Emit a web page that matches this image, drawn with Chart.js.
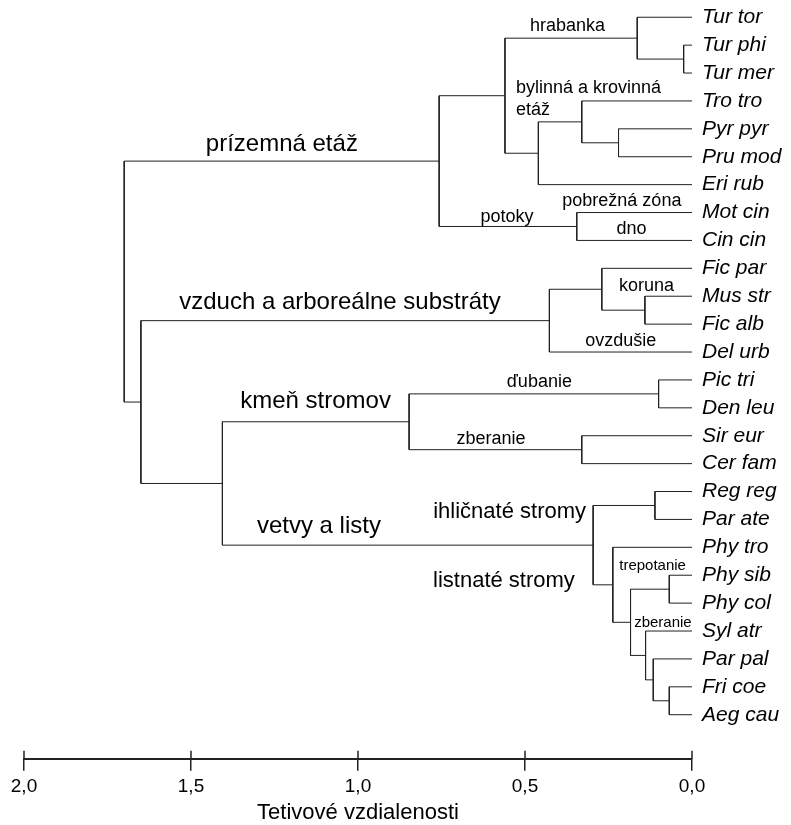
<!DOCTYPE html>
<html>
<head>
<meta charset="utf-8">
<script src="https://cdn.jsdelivr.net/npm/chart.js@4.4.1/dist/chart.umd.min.js"></script>
<style>
  html, body { margin: 0; padding: 0; background: #fff; }
  #wrap { width: 791px; height: 825px; position: relative; }
</style>
</head>
<body>
<div id="wrap"><canvas id="dendro"></canvas></div>
<script>
// leaves, top to bottom
const leaves = ['Tur tor', 'Tur phi', 'Tur mer', 'Tro tro', 'Pyr pyr', 'Pru mod', 'Eri rub',
  'Mot cin', 'Cin cin', 'Fic par', 'Mus str', 'Fic alb', 'Del urb', 'Pic tri', 'Den leu',
  'Sir eur', 'Cer fam', 'Reg reg', 'Par ate', 'Phy tro', 'Phy sib', 'Phy col', 'Syl atr',
  'Par pal', 'Fri coe', 'Aeg cau'];

// merges, hclust style: negative = leaf number (1-based), positive = earlier merge number
const mergeA = [-2, -21, -25, -14, -18, -24, -23, -11, -1, 2, -5, -20, -10, 5, -4, -16, -8, 13, 15, 9, 20, 4, 22, 18, 21];
const mergeB = [-3, -22, -26, -15, -19, 3, 6, -12, 1, 7, -6, 10, 8, 12, 11, -17, -9, -13, -7, 19, 17, 16, 14, 23, 24];
const mergeHeight = [0.025, 0.068, 0.068, 0.10, 0.111, 0.116, 0.139, 0.141, 0.164, 0.184, 0.22, 0.237,
  0.27, 0.296, 0.33, 0.33, 0.345, 0.427, 0.46, 0.56, 0.757, 0.847, 1.406, 1.65, 1.70];

const xTicks = [0, 0.5, 1, 1.5, 2];
const axisTitle = 'Tetivové vzdialenosti';

// group labels: text, distance, row, font size
const groupText = ['prízemná etáž', 'vzduch a arboreálne substráty', 'kmeň stromov', 'vetvy a listy',
  'ihličnaté stromy', 'listnaté stromy', 'hrabanka', 'bylinná a krovinná', 'etáž', 'pobrežná zóna',
  'potoky', 'dno', 'koruna', 'ovzdušie', 'ďubanie', 'zberanie', 'trepotanie', 'zberanie'];
const groupX = [1.228, 1.054, 1.127, 1.117, 0.546, 0.563, 0.373, 0.527, 0.527, 0.21,
  0.554, 0.181, 0.136, 0.213, 0.457, 0.602, 0.118, 0.087];
const groupY = [4.56, 10.21, 13.78, 18.25, 17.72, 20.22, 0.31, 2.53, 3.31, 6.60,
  7.17, 7.60, 9.64, 11.6, 13.07, 15.11, 19.65, 21.72];
const groupSize = [24, 24, 24, 24, 22, 22, 18, 18, 18, 18, 18, 18, 18, 18, 18, 18, 15, 15];

const LINE = '#222';
const FONT = "'Liberation Sans', Arial, sans-serif";

// node positions: height + row (midpoint of children)
function nodePos(id) {
  if (id < 0) return { h: 0, y: -id - 1 };
  const a = nodePos(mergeA[id - 1]);
  const b = nodePos(mergeB[id - 1]);
  return { h: mergeHeight[id - 1], y: (a.y + b.y) / 2 };
}

const datasets = mergeHeight.map((h, i) => {
  const a = nodePos(mergeA[i]);
  const b = nodePos(mergeB[i]);
  return {
    data: [{ x: a.h, y: a.y }, { x: h, y: a.y }, { x: h, y: b.y }, { x: b.h, y: b.y }],
    borderColor: LINE,
    borderWidth: 1,
    pointRadius: 0,
    tension: 0,
    fill: false
  };
});

const textPlugin = {
  id: 'dendroText',
  afterDraw(chart) {
    const ctx = chart.ctx;
    const sx = chart.scales.x, sy = chart.scales.y;
    ctx.save();
    // upper half of axis ticks
    ctx.strokeStyle = LINE;
    ctx.lineWidth = 1.5;
    const bottom = chart.chartArea.bottom;
    xTicks.forEach(t => {
      const px = Math.round(sx.getPixelForValue(t));
      ctx.beginPath();
      ctx.moveTo(px, bottom - 8);
      ctx.lineTo(px, bottom);
      ctx.stroke();
    });
    // leaf names
    ctx.fillStyle = '#000';
    ctx.textBaseline = 'middle';
    ctx.textAlign = 'left';
    ctx.font = 'italic 21px ' + FONT;
    leaves.forEach((name, i) => {
      ctx.fillText(name, sx.getPixelForValue(0) + 10, sy.getPixelForValue(i));
    });
    // group labels
    groupText.forEach((t, i) => {
      ctx.font = groupSize[i] + 'px ' + FONT;
      ctx.textAlign = (i === 7 || i === 8) ? 'left' : 'center';
      ctx.fillText(t, sx.getPixelForValue(groupX[i]), sy.getPixelForValue(groupY[i]));
    });
    ctx.restore();
  }
};

new Chart(document.getElementById('dendro'), {
  type: 'line',
  data: { datasets },
  options: {
    responsive: true,
    maintainAspectRatio: false,
    animation: false,
    layout: { padding: { left: 24, right: 99, top: 0, bottom: 0 } },
    plugins: { legend: { display: false }, tooltip: { enabled: false } },
    scales: {
      x: {
        type: 'linear',
        reverse: true,
        min: 0,
        max: 2,
        afterBuildTicks: scale => { scale.ticks = xTicks.map(v => ({ value: v })); },
        ticks: {
          padding: 5,
          color: '#000',
          font: { family: FONT, size: 19 },
          maxRotation: 0,
          callback: v => v.toFixed(1).replace('.', ',')
        },
        grid: { drawOnChartArea: false, tickLength: 12, color: LINE, lineWidth: 1.5 },
        border: { color: LINE, width: 2 },
        title: {
          display: true,
          text: axisTitle,
          color: '#000',
          font: { family: FONT, size: 22 },
          padding: { top: -4, bottom: -1 }
        }
      },
      y: {
        type: 'linear',
        reverse: true,
        min: -0.618,
        max: 26.58,
        display: false
      }
    }
  },
  plugins: [textPlugin]
});
</script>
</body>
</html>
